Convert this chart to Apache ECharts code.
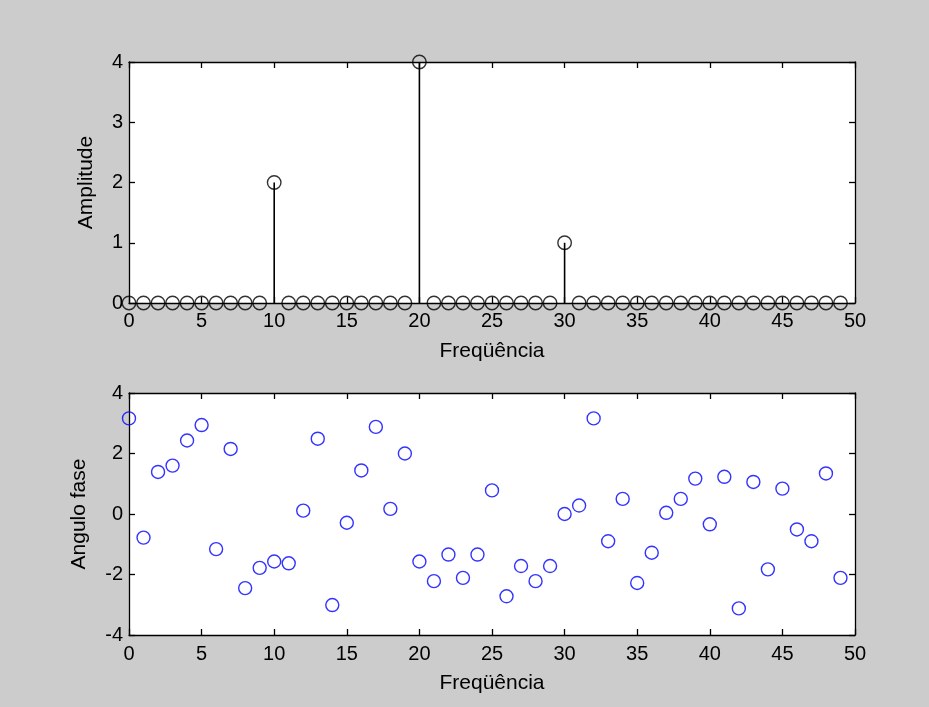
<!DOCTYPE html>
<html>
<head>
<meta charset="utf-8">
<script src="https://cdn.jsdelivr.net/npm/echarts@6/dist/echarts.min.js"></script>
<style>
html,body{margin:0;padding:0;background:#cccccc;}
#main{width:929px;height:707px;}
</style>
</head>
<body>
<div id="main"></div>
<script>
// Data
var freq = [];
for (var i = 0; i < 50; i++) freq.push(i);
var amplitude = [0,0,0,0,0,0,0,0,0,0,2,0,0,0,0,0,0,0,0,0,4,0,0,0,0,0,0,0,0,0,1,0,0,0,0,0,0,0,0,0,0,0,0,0,0,0,0,0,0,0];
var phase = [3.16,-0.78,1.39,1.60,2.43,2.94,-1.16,2.15,-2.45,-1.78,
             -1.57,-1.63,0.11,2.49,-3.01,-0.29,1.44,2.88,0.17,2.00,
             -1.57,-2.22,-1.34,-2.11,-1.34,0.78,-2.72,-1.72,-2.22,-1.72,
             0.00,0.28,3.16,-0.90,0.50,-2.28,-1.28,0.04,0.50,1.17,
             -0.34,1.23,-3.12,1.06,-1.83,0.84,-0.51,-0.90,1.34,-2.11];
var xLabel = 'Freqüência';
var ampLabel = 'Amplitude';
var phaseLabel = 'Angulo fase';

var ampPts = freq.map(function(f, i){ return [f, amplitude[i]]; });
var phasePts = freq.map(function(f, i){ return [f, phase[i]]; });

var font = 'Liberation Sans, Arial, sans-serif';
function xAx(grid, pos, showLabel, name, lblMargin) {
  return {
    type: 'value', gridIndex: grid, position: pos, min: 0, max: 50, interval: 5,
    axisLine: {show: true, onZero: false, lineStyle: {color: '#000', width: 1.3}},
    axisTick: {show: true, inside: true, length: 6, lineStyle: {color: '#000', width: 1.3}},
    axisLabel: {show: showLabel, color: '#000', fontSize: 20, fontFamily: font, margin: lblMargin || 8},
    splitLine: {show: false},
    name: name || '', nameLocation: 'middle', nameGap: 38,
    nameTextStyle: {color: '#000', fontSize: 21, fontFamily: font}
  };
}
function yAx(grid, pos, showLabel, min, max, interval, name, gap) {
  return {
    type: 'value', gridIndex: grid, position: pos, min: min, max: max, interval: interval,
    axisLine: {show: true, onZero: false, lineStyle: {color: '#000', width: 1.3}},
    axisTick: {show: true, inside: true, length: 6, lineStyle: {color: '#000', width: 1.3}},
    axisLabel: {show: showLabel, color: '#000', fontSize: 20, fontFamily: font, margin: 6},
    splitLine: {show: false},
    name: name || '', nameLocation: 'middle', nameGap: gap || 30, nameRotate: 90,
    nameTextStyle: {color: '#000', fontSize: 21, fontFamily: font}
  };
}

var chart = echarts.init(document.getElementById('main'), null, {renderer: 'canvas'});
chart.setOption({
  backgroundColor: '#cccccc',
  animation: false,
  grid: [
    {left: 129, right: 74, top: 62, height: 241, show: true, backgroundColor: '#fff', borderWidth: 0},
    {left: 129, right: 74, top: 393, height: 242, show: true, backgroundColor: '#fff', borderWidth: 0}
  ],
  xAxis: [
    xAx(0, 'bottom', true, xLabel, 8),
    xAx(0, 'top', false),
    xAx(1, 'bottom', true, xLabel, 9),
    xAx(1, 'top', false)
  ],
  yAxis: [
    yAx(0, 'left', true, 0, 4, 1, ampLabel, 32),
    yAx(0, 'right', false, 0, 4, 1),
    yAx(1, 'left', true, -4, 4, 2, phaseLabel, 39),
    yAx(1, 'right', false, -4, 4, 2)
  ],
  series: [
    {
      type: 'bar', xAxisIndex: 0, yAxisIndex: 0, data: ampPts, barWidth: 1.6,
      itemStyle: {color: '#000'}, silent: true
    },
    {
      type: 'scatter', xAxisIndex: 0, yAxisIndex: 0, data: ampPts,
      symbol: 'circle', symbolSize: 13.5, clip: false,
      itemStyle: {color: 'rgba(0,0,0,0)', borderColor: '#000', borderWidth: 1.4}
    },
    {
      type: 'scatter', xAxisIndex: 2, yAxisIndex: 2, data: phasePts,
      symbol: 'circle', symbolSize: 13, clip: false,
      itemStyle: {color: 'rgba(0,0,0,0)', borderColor: '#0000ff', borderWidth: 1.4}
    }
  ]
});
</script>
</body>
</html>
